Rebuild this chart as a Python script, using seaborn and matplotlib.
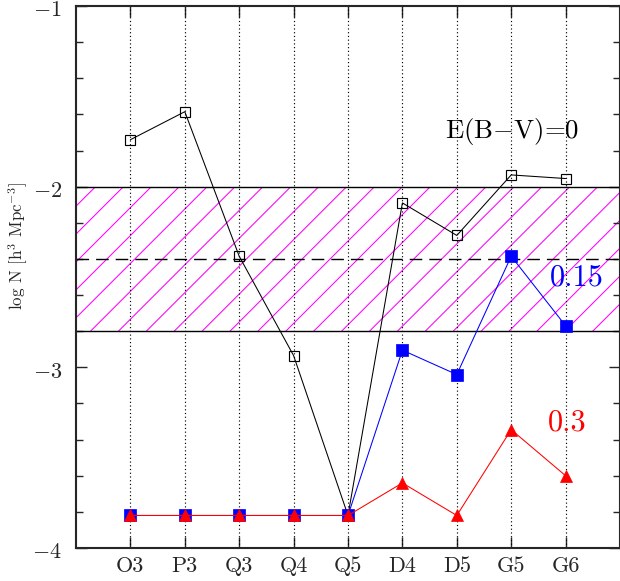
import matplotlib
matplotlib.use("Agg")
import matplotlib.pyplot as plt
import matplotlib.transforms as mtransforms
import seaborn as sns
import pandas as pd
import numpy as np
from matplotlib.ticker import MultipleLocator

# Model labels along the x axis
categories = ["O3", "P3", "Q3", "Q4", "Q5", "D4", "D5", "G5", "G6"]

# log number density for each reddening value
logn_ebv0 = [-1.74, -1.585, -2.385, -2.935, -3.82, -2.09, -2.27, -1.935, -1.955]
logn_ebv015 = [-3.82, -3.82, -3.82, -3.82, -3.82, -2.905, -3.04, -2.385, -2.77]
logn_ebv03 = [-3.82, -3.82, -3.82, -3.82, -3.82, -3.64, -3.82, -3.345, -3.60]

# Observed range (hatched band) and its central value
obs_low, obs_high, obs_mid = -2.8, -2.0, -2.4

y_ticks = [-4, -3, -2, -1]
y_ticklabels = ["$-$4", "$-$3", "$-$2", "$-$1"]
series_labels = ["E(B$-$V)=0", "0.15", "0.3"]
y_label = "log N [h$^3$ Mpc$^{-3}$]"

DPI = 168
sns.set_style("ticks")
plt.rcParams["font.family"] = ["cmr10", "DejaVu Serif"]
plt.rcParams["mathtext.fontset"] = "cm"
plt.rcParams["axes.unicode_minus"] = True

fig = plt.figure(figsize=(620 / DPI, 581 / DPI), dpi=DPI)
ax = fig.add_axes([76 / 620, 1 - 548 / 581, 544 / 620, 542 / 581])
ax.set_xlim(0, 10)
ax.set_ylim(-4, -1)

xpos = np.arange(1, len(categories) + 1)
df = pd.DataFrame({
    "pos": np.tile(xpos, 3),
    "logn": logn_ebv0 + logn_ebv015 + logn_ebv03,
    "ebv": np.repeat(series_labels, len(categories)),
})

# Hatched band of the observed density: 45-degree magenta strokes
band = ax.axhspan(obs_low, obs_high, facecolor="none", edgecolor="none",
                  zorder=0)
(bx0, by0) = ax.transData.transform((0, obs_low))
(bx1, by1) = ax.transData.transform((10, obs_high))
rise = by1 - by0
step = 27.9
inv = ax.transData.inverted()
for start in np.arange(bx0 - rise - 0.3 * step, bx1 + step, step):
    seg = inv.transform([(start, by0), (start + rise, by1)])
    ln, = ax.plot(seg[:, 0], seg[:, 1], color="magenta", lw=0.45, zorder=0.5)
    ln.set_clip_path(band)
ax.axhline(obs_high, color="black", lw=0.6, zorder=1)
ax.axhline(obs_low, color="black", lw=0.6, zorder=1)
ax.axhline(obs_mid, color="black", lw=0.6, dashes=(9, 5), zorder=1)

# Dotted guides at each model
for xp in xpos:
    ax.axvline(xp, color="black", lw=0.5, ls=(0, (1, 2.2)), zorder=1)

styles = {
    series_labels[0]: dict(color="black", marker="s", markersize=4.6,
                           markerfacecolor="none", markeredgecolor="black",
                           markeredgewidth=0.5),
    series_labels[1]: dict(color="blue", marker="s", markersize=4.8,
                           markerfacecolor="blue", markeredgecolor="blue",
                           markeredgewidth=0.3),
    series_labels[2]: dict(color="red", marker="^", markersize=5.4,
                           markerfacecolor="red", markeredgecolor="red",
                           markeredgewidth=0.3),
}
for i, lab in enumerate(series_labels):
    sub = df[df["ebv"] == lab]
    sns.lineplot(data=sub, x="pos", y="logn", ax=ax, sort=False,
                 linewidth=0.45, zorder=3 + i, legend=False, **styles[lab])

ax.text(8.01, -1.697, series_labels[0], fontsize=11.5, color="black",
        ha="center", va="center", zorder=2)
ax.text(9.21, -2.505, series_labels[1], fontsize=13, color="blue",
        ha="center", va="center", zorder=2)
ax.text(9.03, -3.308, series_labels[2], fontsize=13, color="red",
        ha="center", va="center", zorder=2)

ax.set_xticks(xpos)
ax.set_xticklabels(categories)
ax.set_yticks(y_ticks)
ax.set_yticklabels(y_ticklabels)
ax.yaxis.set_minor_locator(MultipleLocator(0.2))
ax.tick_params(axis="both", which="major", direction="in", length=4.7,
               width=0.6, top=True, right=True)
ax.tick_params(axis="x", which="major", labelsize=9.5, pad=3.5)
ax.tick_params(axis="y", which="major", labelsize=9.5, pad=6)
ax.tick_params(axis="y", which="minor", direction="in", length=3,
               width=0.6, left=True, right=True)

# nudge the y tick labels slightly below their ticks
shift = mtransforms.ScaledTranslation(0, -2.5 / DPI, fig.dpi_scale_trans)
for lbl in ax.get_yticklabels():
    lbl.set_transform(lbl.get_transform() + shift)

ax.set_xlabel("")
ax.set_ylabel("")
fig.text(18 / 620, 1 - 246 / 581, y_label, fontsize=7.3, rotation=90,
         ha="center", va="center")
for sp in ax.spines.values():
    sp.set_linewidth(0.9)
    sp.set_visible(True)

fig.savefig("out.png", dpi=DPI)
